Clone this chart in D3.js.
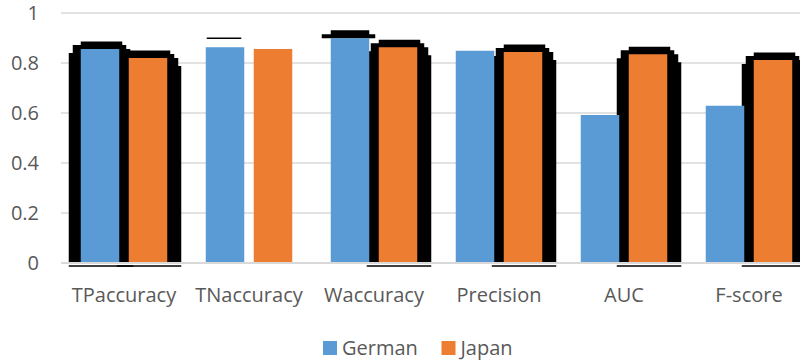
<!DOCTYPE html>
<html lang="en">
  <head>
    <meta charset="utf-8">
    <title>German vs Japan</title>
    <style>
body {
  margin: 0;
  background: #fff;
}
svg {
  font-family: "Open Sans", sans-serif;
  font-size: 20px;
  display: block;
}
.grid line {
  stroke: #d9d9d9;
  stroke-width: 1.5;
}
.axis text, .legend text {
  fill: #595959;
}
    </style>
  </head>
  <body>
    <svg></svg>
    <script src="https://cdn.jsdelivr.net/npm/d3@7"></script>
    <script>

const categories = ["TPaccuracy", "TNaccuracy", "Waccuracy", "Precision", "AUC", "F-score"];
const series = ["German", "Japan"];
const german = [0.856, 0.863, 0.899, 0.849, 0.592, 0.629];
const japan = [0.820, 0.856, 0.863, 0.844, 0.835, 0.812];
const yTicks = [0, 0.2, 0.4, 0.6, 0.8, 1];

// the black blobs drawn around some of the bars in the original
const haloGerman = ["full", "line", "cap", "none", "none", "none"];
const haloJapan = ["full", "none", "full", "full", "full", "full"];

let width = 800,
    height = 364;

let colors = {German: "#5b9bd5", Japan: "#ed7d31"};

let svg = d3.select("svg")
    .attr("width", width)
    .attr("height", height);

let x = d3.scaleBand()
    .domain(categories)
    .range([61.5, 811.5]);

let xs = d3.scalePoint()
    .domain(series)
    .range([-24, 24]);

let y = d3.scaleLinear()
    .domain([0, 1])
    .range([263, 13]);

let barW = 38.5;

// gridlines
svg.append("g")
    .attr("class", "grid")
  .selectAll("line")
    .data(yTicks.filter(d => d > 0))
  .enter().append("line")
    .attr("x1", 61)
    .attr("x2", width)
    .attr("y1", d => y(d))
    .attr("y2", d => y(d));

let rows = [];
categories.forEach(function(c, i) {
  rows.push({cat: c, s: "German", v: german[i], halo: haloGerman[i]});
  rows.push({cat: c, s: "Japan", v: japan[i], halo: haloJapan[i]});
});

function bx0(d) { return x(d.cat) + x.bandwidth() / 2 + xs(d.s) - barW / 2; }

// halos first, so bars sit on top
let halo = svg.append("g").attr("class", "halo");
rows.forEach(function(d) {
  let x0 = bx0(d), x1 = x0 + barW, t = y(d.v), b = y(0);
  if (d.halo === "full") {
    halo.append("path")
        .attr("d", "M" + (x0 - 12) + "," + b + "V" + (t + 4) + "H" + (x0 - 8) + "V" + (t - 4) +
          "H" + x0 + "V" + (t - 7.5) + "H" + (x1 + 3) + "V" + (t - 4) + "H" + (x1 + 7) +
          "V" + t + "H" + (x1 + 11) + "V" + (t + 8) + "H" + (x1 + 14) + "V" + b + "Z")
        .attr("fill", "#000");
    halo.append("line")
        .attr("x1", x0 - 12).attr("x2", x1 + 14)
        .attr("y1", b + 3).attr("y2", b + 3)
        .attr("stroke", "#000").attr("stroke-width", 1.5);
  } else if (d.halo === "cap") {
    halo.append("rect")
        .attr("x", x0 - 9).attr("y", t - 4)
        .attr("width", barW + 15).attr("height", 4)
        .attr("fill", "#000");
    halo.append("rect")
        .attr("x", x0).attr("y", t - 8)
        .attr("width", barW).attr("height", 8)
        .attr("fill", "#000");
  } else if (d.halo === "line") {
    halo.append("line")
        .attr("x1", x0 + 1).attr("x2", x1 - 3)
        .attr("y1", t - 9).attr("y2", t - 9)
        .attr("stroke", "#000").attr("stroke-width", 1.5);
  }
});

svg.append("g")
    .attr("class", "bars")
  .selectAll("rect")
    .data(rows)
  .enter().append("rect")
    .attr("x", bx0)
    .attr("y", d => y(d.v))
    .attr("width", barW)
    .attr("height", d => y(0) - y(d.v))
    .attr("fill", d => colors[d.s]);

// baseline
svg.append("line")
    .attr("x1", 61)
    .attr("x2", width)
    .attr("y1", y(0))
    .attr("y2", y(0))
    .attr("stroke", "#d9d9d9")
    .attr("stroke-width", 2);

// y labels
svg.append("g")
    .attr("class", "axis")
  .selectAll("text")
    .data(yTicks)
  .enter().append("text")
    .attr("x", 39)
    .attr("y", d => y(d))
    .attr("dy", "0.35em")
    .attr("text-anchor", "end")
    .text(d => d3.format("")(+d.toFixed(1)));

// x labels
svg.append("g")
    .attr("class", "axis")
  .selectAll("text")
    .data(categories)
  .enter().append("text")
    .attr("x", d => x(d) + x.bandwidth() / 2)
    .attr("y", 302)
    .attr("text-anchor", "middle")
    .text(d => d);

// legend
let legend = svg.append("g")
    .attr("class", "legend")
  .selectAll("g")
    .data(series)
  .enter().append("g")
    .attr("transform", (d, i) => "translate(" + (323 + i * 118.5) + ",341)");

legend.append("rect")
    .attr("width", 14)
    .attr("height", 14)
    .attr("fill", d => colors[d]);

legend.append("text")
    .attr("x", 19)
    .attr("y", 14)
    .text(d => d);

    </script>
  </body>
</html>
